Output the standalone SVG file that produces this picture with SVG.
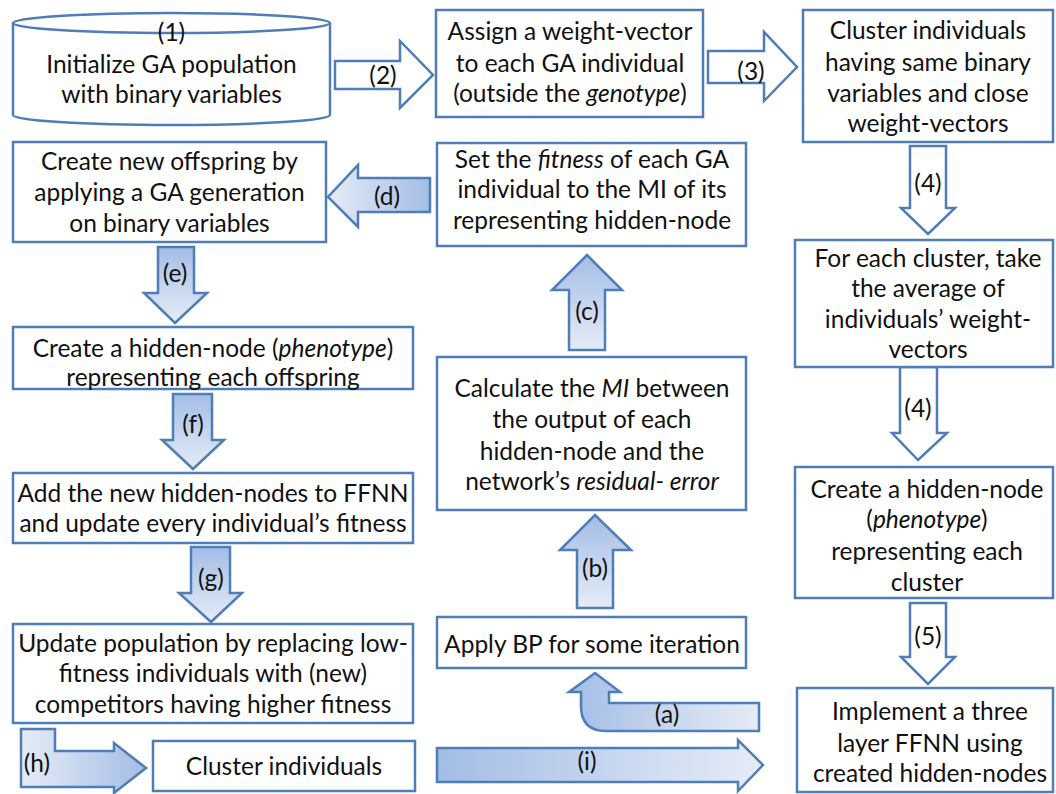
<svg xmlns="http://www.w3.org/2000/svg" width="1056" height="794" viewBox="0 0 1056 794">
<defs>
<style>
.b{fill:#fff;stroke:#4f7db5;stroke-width:2.5}
.w{fill:#fff;stroke:#4f7db5;stroke-width:2.5;stroke-linejoin:miter}
.t{font-family:Lato,"Liberation Sans",sans-serif;font-size:24.5px;fill:#111;text-anchor:middle}
.i{font-style:italic}
</style>
<linearGradient id="gv" x1="0" y1="0" x2="0" y2="1"><stop offset="0" stop-color="#a3bde6"/><stop offset="1" stop-color="#e6ecf7"/></linearGradient>
<linearGradient id="gl" x1="0" y1="0" x2="1" y2="0"><stop offset="0" stop-color="#a3bde6"/><stop offset="1" stop-color="#e6ecf7"/></linearGradient>
<linearGradient id="gr" x1="0" y1="0" x2="1" y2="0"><stop offset="0" stop-color="#e6ecf7"/><stop offset="1" stop-color="#a3bde6"/></linearGradient>
</defs>
<rect width="1056" height="794" fill="#fff"/>

<g id="connectors">
<path class="w" d="M335,61 H400 V41 L433,75 L400,108 V89 H335 Z"/>
<path class="w" d="M708,51 H764 V32 L797,67 L764,101 V83 H708 Z"/>
<path class="w" d="M910,146 H946 V208 H955 L928,234 L901,208 H910 Z"/>
<path class="w" d="M900,367 H937 V433 H947 L918,460 L892,433 H900 Z"/>
<path class="w" d="M910,603 H946 V657 H955 L928,684 L901,657 H910 Z"/>
<path class="w" style="fill:url(#gr)" d="M430,178 V212 H358 V227 L328,197 L358,165 V178 Z"/>
<path class="w" style="fill:url(#gv)" d="M158,247 H194 V293 H207 L175,323 L144,293 H158 Z"/>
<path class="w" style="fill:url(#gv)" d="M173,394 H212 V440 H224 L193,469 L162,440 H173 Z"/>
<path class="w" style="fill:url(#gv)" d="M191,547 H230 V593 H242 L211,622 L179,593 H191 Z"/>
<path class="w" style="fill:url(#gv)" d="M569,350 V290 H552 L587,255 L622,290 H605 V350 Z"/>
<path class="w" style="fill:url(#gv)" d="M577,608 V550 H560 L595,515 L631,550 H613 V608 Z"/>
<path class="w" style="fill:url(#gl)" d="M595,673 L620,692 H609 V703 H759 V731 H606 Q581,731 581,706 V692 H569 Z"/>
<path class="w" style="fill:url(#gl)" d="M437,748 H738 V740 L763,765 L738,791 V782 H437 Z"/>
<path class="w" style="fill:url(#gr)" d="M21,729 H55 V751 H114 V743 L146,768 L114,793 V787 H21 Z"/>
<text class="t" x="383" y="84">(2)</text>
<text class="t" x="751" y="80">(3)</text>
<text class="t" x="928" y="192">(4)</text>
<text class="t" x="918" y="417">(4)</text>
<text class="t" x="928" y="645">(5)</text>
<text class="t" x="387" y="205">(d)</text>
<text class="t" x="175" y="282">(e)</text>
<text class="t" x="193" y="433">(f)</text>
<text class="t" x="211" y="587">(g)</text>
<text class="t" x="587" y="320">(c)</text>
<text class="t" x="595" y="577">(b)</text>
<text class="t" x="667" y="723">(a)</text>
<text class="t" x="587" y="770">(i)</text>
<text class="t" x="37" y="772">(h)</text>
</g>

<g id="n1">
<path class="b" d="M13,23 V115 A158.5,10 0 0 0 330,115 V23"/>
<ellipse class="b" cx="171.5" cy="23" rx="158.5" ry="10"/>
<text class="t" x="171.5" y="41">(1)</text>
<text class="t" x="171.5" y="73">Initialize GA population</text>
<text class="t" x="171.5" y="103">with binary variables</text>
</g>

<g id="n2">
<rect class="b" x="436" y="10" width="267" height="107"/>
<text class="t" x="570" y="40">Assign a weight-vector</text>
<text class="t" x="570" y="72">to each GA individual</text>
<text class="t" x="570" y="102">(outside the <tspan class="i">genotype</tspan>)</text>
</g>

<g id="n3">
<rect class="b" x="803" y="10" width="250" height="132"/>
<text class="t" x="928" y="39">Cluster individuals</text>
<text class="t" x="928" y="71">having same binary</text>
<text class="t" x="928" y="102">variables and close</text>
<text class="t" x="928" y="132">weight-vectors</text>
</g>

<g id="n4">
<rect class="b" x="795" y="240" width="258" height="127"/>
<text class="t" x="928" y="267">For each cluster, take</text>
<text class="t" x="928" y="297">the average of</text>
<text class="t" x="928" y="328">individuals’ weight-</text>
<text class="t" x="928" y="358">vectors</text>
</g>

<g id="n5">
<rect class="b" x="795" y="467" width="258" height="131"/>
<text class="t" x="927" y="498">Create a hidden-node</text>
<text class="t" x="927" y="528">(<tspan class="i">phenotype</tspan>)</text>
<text class="t" x="927" y="560">representing each</text>
<text class="t" x="927" y="591">cluster</text>
</g>

<g id="n6">
<rect class="b" x="797" y="688" width="256" height="104"/>
<text class="t" x="930" y="720">Implement a three</text>
<text class="t" x="930" y="752">layer FFNN using</text>
<text class="t" x="930" y="782">created hidden-nodes</text>
</g>

<g id="n7">
<rect class="b" x="437" y="143" width="309" height="103"/>
<text class="t" x="592" y="168">Set the <tspan class="i">fitness</tspan> of each GA</text>
<text class="t" x="592" y="198">individual to the MI of its</text>
<text class="t" x="592" y="229">representing hidden-node</text>
</g>

<g id="n8">
<rect class="b" x="437" y="357" width="309" height="153"/>
<text class="t" x="592" y="397">Calculate the <tspan class="i">MI</tspan> between</text>
<text class="t" x="592" y="428">the output of each</text>
<text class="t" x="592" y="460">hidden-node and the</text>
<text class="t" x="592" y="490">network’s <tspan class="i">residual- error</tspan></text>
</g>

<g id="n9">
<rect class="b" x="437" y="617" width="309" height="51"/>
<text class="t" x="592" y="653">Apply BP for some iteration</text>
</g>

<g id="n10">
<rect class="b" x="13" y="142" width="313" height="100"/>
<text class="t" x="169.5" y="170">Create new offspring by</text>
<text class="t" x="169.5" y="201">applying a GA generation</text>
<text class="t" x="169.5" y="232">on binary variables</text>
</g>

<g id="n11">
<rect class="b" x="13" y="327" width="400" height="62"/>
<text class="t" x="213" y="357">Create a hidden-node (<tspan class="i">phenotype</tspan>)</text>
<text class="t" x="213" y="386">representing each offspring</text>
</g>

<g id="n12">
<rect class="b" x="13" y="473" width="400" height="70"/>
<text class="t" x="213" y="502">Add the new hidden-nodes to FFNN</text>
<text class="t" x="213" y="532">and update every individual’s fitness</text>
</g>

<g id="n13">
<rect class="b" x="13" y="624" width="400" height="99"/>
<text class="t" x="213" y="652">Update population by replacing low-</text>
<text class="t" x="213" y="682">fitness individuals with (new)</text>
<text class="t" x="213" y="713">competitors having higher fitness</text>
</g>

<g id="n14">
<rect class="b" x="153" y="741" width="262" height="50"/>
<text class="t" x="284" y="775">Cluster individuals</text>
</g>
</svg>
